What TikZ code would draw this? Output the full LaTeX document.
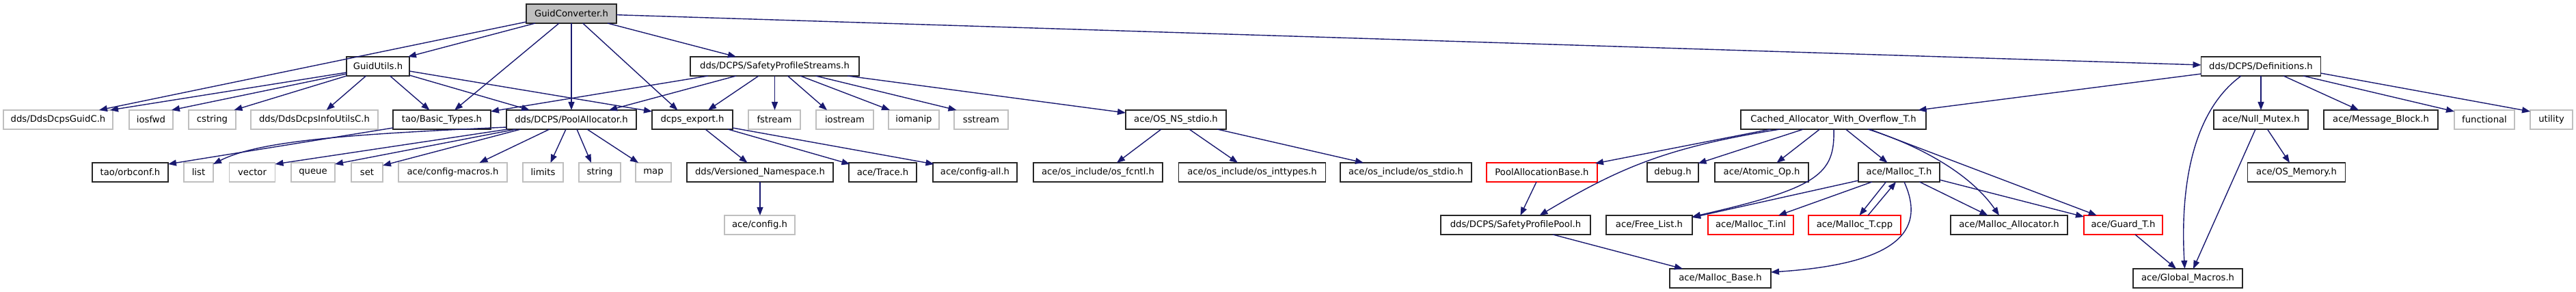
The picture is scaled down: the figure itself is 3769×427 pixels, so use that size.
\documentclass[tikz,border=0pt]{standalone}
\usepackage{fontspec}
\setmainfont{DejaVu Sans}
\usetikzlibrary{arrows.meta,calc}
\definecolor{edgec}{HTML}{191970}
\definecolor{graybd}{HTML}{BFBFBF}
\definecolor{rootfill}{HTML}{BFBFBF}
\definecolor{redbd}{HTML}{FF0000}
\newcommand\myedge[4]{\draw[e] ($(#1)+(#2)$) -- ($(#3)+(#4)$);}
\begin{document}
\begin{tikzpicture}[x=0.5pt,y=-0.5pt,
  box/.style={rectangle, minimum height=14pt, inner sep=0pt, fill=white, line width=0.8pt,
    font=\fontsize{6.6}{8}\selectfont, text=black},
  bw/.style={minimum width=#1*0.5pt},
  gbox/.style={box, draw=graybd},
  bbox/.style={box, draw=black!85},
  rbox/.style={box, draw=redbd},
  root/.style={box, draw=black!85, fill=rootfill},
  e/.style={draw=edgec, line width=0.7pt, -{Triangle[length=6pt,width=4.5pt]}}
]
\useasboundingbox (0,0) rectangle (3769,427);
% row 0
\node[root,bw=132] (GC) at (836,20) {GuidConverter.h};
% row 1
\node[bbox,bw=92] (GU) at (553,97) {GuidUtils.h};
\node[bbox,bw=247] (SPS) at (1133.5,97) {dds/DCPS/SafetyProfileStreams.h};
\node[bbox,bw=175] (DEF) at (3308,97) {dds/DCPS/Definitions.h};
% row 2
\node[gbox,bw=160] (GUIDC) at (85,175) {dds/DdsDcpsGuidC.h};
\node[gbox,bw=64] (IOSFWD) at (221,175) {iosfwd};
\node[gbox,bw=69] (CSTRING) at (310.5,175) {cstring};
\node[gbox,bw=186] (INFOU) at (460,175) {dds/DdsDcpsInfoUtilsC.h};
\node[bbox,bw=143] (BT) at (646.5,175) {tao/Basic\_Types.h};
\node[bbox,bw=190] (PA) at (836,175) {dds/DCPS/PoolAllocator.h};
\node[bbox,bw=118] (DE) at (1013,175) {dcps\_export.h};
\node[gbox,bw=76] (FSTREAM) at (1133,175) {fstream};
\node[gbox,bw=84] (IOSTREAM) at (1236,175) {iostream};
\node[gbox,bw=74] (IOMANIP) at (1337,175) {iomanip};
\node[gbox,bw=79] (SSTREAM) at (1435.5,175) {sstream};
\node[bbox,bw=147] (OSNS) at (1720.5,175) {ace/OS\_NS\_stdio.h};
\node[bbox,bw=271] (CA) at (2682.5,175) {Cached\_Allocator\_With\_Overflow\_T.h};
\node[bbox,bw=138] (NM) at (3308,175) {ace/Null\_Mutex.h};
\node[bbox,bw=167] (MB) at (3483.5,175) {ace/Message\_Block.h};
\node[gbox,bw=88] (FUNC) at (3635,175) {functional};
\node[gbox,bw=62] (UTIL) at (3733,175) {utility};
% row 3
\node[bbox,bw=111] (ORB) at (190.5,252) {tao/orbconf.h};
\node[gbox,bw=43] (LIST) at (290.5,252) {list};
\node[gbox,bw=67] (VECTOR) at (369,252) {vector};
\node[gbox,bw=64] (QUEUE) at (458,252) {queue};
\node[gbox,bw=46] (SET) at (537,252) {set};
\node[gbox,bw=159] (CFGM) at (662.5,252) {ace/config-macros.h};
\node[gbox,bw=59] (LIMITS) at (794.5,252) {limits};
\node[gbox,bw=61] (STRING) at (877.5,252) {string};
\node[gbox,bw=52] (MAP) at (956,252) {map};
\node[bbox,bw=214] (VN) at (1112,252) {dds/Versioned\_Namespace.h};
\node[bbox,bw=99] (TRACE) at (1291.5,252) {ace/Trace.h};
\node[bbox,bw=123] (CFGALL) at (1426.5,252) {ace/config-all.h};
\node[bbox,bw=189] (FCNTL) at (1606.5,252) {ace/os\_include/os\_fcntl.h};
\node[bbox,bw=215] (INTT) at (1832,252) {ace/os\_include/os\_inttypes.h};
\node[bbox,bw=192] (OSSTDIO) at (2057,252) {ace/os\_include/os\_stdio.h};
\node[rbox,bw=162] (PAB) at (2256,252) {PoolAllocationBase.h};
\node[bbox,bw=75] (DEBUG) at (2447.5,252) {debug.h};
\node[bbox,bw=137] (ATOMIC) at (2577.5,252) {ace/Atomic\_Op.h};
\node[bbox,bw=119] (MT) at (2778.5,252) {ace/Malloc\_T.h};
\node[bbox,bw=143] (OSMEM) at (3360,252) {ace/OS\_Memory.h};
% row 4
\node[gbox,bw=103] (CONFIG) at (1111.5,329) {ace/config.h};
\node[bbox,bw=219] (SPP) at (2217.5,329) {dds/DCPS/SafetyProfilePool.h};
\node[bbox,bw=126] (FL) at (2413,329) {ace/Free\_List.h};
\node[rbox,bw=125] (MTINL) at (2561.5,329) {ace/Malloc\_T.inl};
\node[rbox,bw=135] (MTCPP) at (2713.5,329) {ace/Malloc\_T.cpp};
\node[bbox,bw=171] (MA) at (2939.5,329) {ace/Malloc\_Allocator.h};
\node[rbox,bw=115] (GT) at (3106.5,329) {ace/Guard\_T.h};
% row 5
\node[bbox,bw=148] (MBASE) at (2517,407) {ace/Malloc\_Base.h};
\node[bbox,bw=160] (GM) at (3201,407) {ace/Global\_Macros.h};

% edges from GuidConverter.h
\myedge{GC}{-66,12}{GUIDC}{60,-14}
\myedge{GC}{-53,14}{GU}{44,-14}
\myedge{GC}{-18,14}{BT}{18.5,-14}
\myedge{GC}{0,14}{PA}{0,-14}
\myedge{GC}{16.7,14}{DE}{-21.6,-14}
\myedge{GC}{53,14}{SPS}{-56.5,-14}
\myedge{GC}{66,1.7}{DEF}{-87.5,-2}
% GuidUtils.h
\myedge{GU}{-46,9}{GUIDC}{76,-14}
\myedge{GU}{-46,11}{IOSFWD}{30,-14}
\myedge{GU}{-46,14}{CSTRING}{32,-14}
\myedge{GU}{-17.5,14}{INFOU}{17.6,-14}
\myedge{GU}{17.6,14}{BT}{-18,-14}
\myedge{GU}{46,13}{PA}{-61,-14}
\myedge{GU}{46,7}{DE}{-59,-12}
% SafetyProfileStreams.h
\myedge{SPS}{-97.5,14}{BT}{71.5,-12}
\myedge{SPS}{-56.5,14}{PA}{55,-14}
\myedge{SPS}{-23.5,14}{DE}{23,-14}
\myedge{SPS}{0,14}{FSTREAM}{0.5,-14}
\myedge{SPS}{19,14}{IOSTREAM}{-26,-14}
\myedge{SPS}{37.5,14}{IOMANIP}{-35,-14}
\myedge{SPS}{60,14}{SSTREAM}{-36,-14}
\myedge{SPS}{106.5,14}{OSNS}{-73.5,-10}
% Basic_Types
\myedge{BT}{-71.5,12}{ORB}{55.5,-12}
% PoolAllocator
\draw[e] ($(PA)+(-95,11)$) .. controls (520,196) and (380,205) .. ($(LIST)+(21.5,-12)$);
\myedge{PA}{-93,14}{VECTOR}{33.5,-12}
\myedge{PA}{-81,14}{QUEUE}{32,-12}
\myedge{PA}{-74,14}{SET}{23,-10}
\myedge{PA}{-32,14}{CFGM}{39,-14}
\myedge{PA}{-8,14}{LIMITS}{11,-14}
\myedge{PA}{8,14}{STRING}{-12.5,-14}
\myedge{PA}{23,14}{MAP}{-22,-14}
% dcps_export
\myedge{DE}{19,14}{VN}{-18.5,-14}
\myedge{DE}{52,14}{TRACE}{-48,-12}
\myedge{DE}{59,12}{CFGALL}{-60,-12}
\myedge{VN}{0,14}{CONFIG}{0.5,-14}
% OS_NS_stdio
\myedge{OSNS}{-21.5,14}{FCNTL}{27.5,-14}
\myedge{OSNS}{19.5,14}{INTT}{-21,-14}
\myedge{OSNS}{60.5,14}{OSSTDIO}{-62,-14}
% Definitions.h
\myedge{DEF}{-87.5,11}{CA}{124,-14}
\draw[e] ($(DEF)+(-29,14)$) .. controls (3205,165) and (3190,280) .. ($(GM)+(-4.5,-14)$);
\myedge{DEF}{0,14}{NM}{0,-14}
\myedge{DEF}{33,14}{MB}{-32.5,-14}
\myedge{DEF}{62,14}{FUNC}{-44,-12}
\myedge{DEF}{87.5,10}{UTIL}{-31,-12}
% Null_Mutex
\myedge{NM}{-8,14}{GM}{8,-14}
\myedge{NM}{9.4,14}{OSMEM}{-10,-14}
% Cached_Allocator_With_Overflow_T.h
\myedge{CA}{-92,14}{PAB}{78,-13}
\draw[e] ($(CA)+(-78,14)$) .. controls (2440,215) and (2370,245) .. ($(SPP)+(35,-14)$);
\myedge{CA}{-44,14}{DEBUG}{37,-13}
\myedge{CA}{-20,14}{ATOMIC}{22,-14}
\draw[e] ($(CA)+(0.5,14)$) .. controls (2685,255) and (2660,275) .. ($(FL)+(63,-12)$);
\myedge{CA}{18,14}{MT}{-17,-14}
\draw[e] ($(CA)+(50.5,14)$) .. controls (2800,210) and (2880,250) .. ($(MA)+(-14.5,-14)$);
\myedge{CA}{53,14}{GT}{-38.7,-14}
% Malloc_T.h
\myedge{MT}{-59.5,12}{FL}{63,-11}
\myedge{MT}{-39.5,14}{MTINL}{40.5,-14}
\myedge{MT}{-19,14}{MTCPP}{7,-14}
\myedge{MTCPP}{19.5,-14}{MT}{-4.5,14}
\draw[e] ($(MT)+(7.5,14)$) .. controls (2815,330) and (2790,385) .. ($(MBASE)+(74,-9)$);
\myedge{MT}{30,14}{MA}{-31,-14}
\myedge{MT}{59.5,11}{GT}{-57.5,-12}
% others
\myedge{PAB}{-8,14}{SPP}{7,-14}
\myedge{SPP}{54.5,14}{MBASE}{-55,-14}
\myedge{GT}{17.5,14}{GM}{-17,-14}
\end{tikzpicture}
\end{document}
